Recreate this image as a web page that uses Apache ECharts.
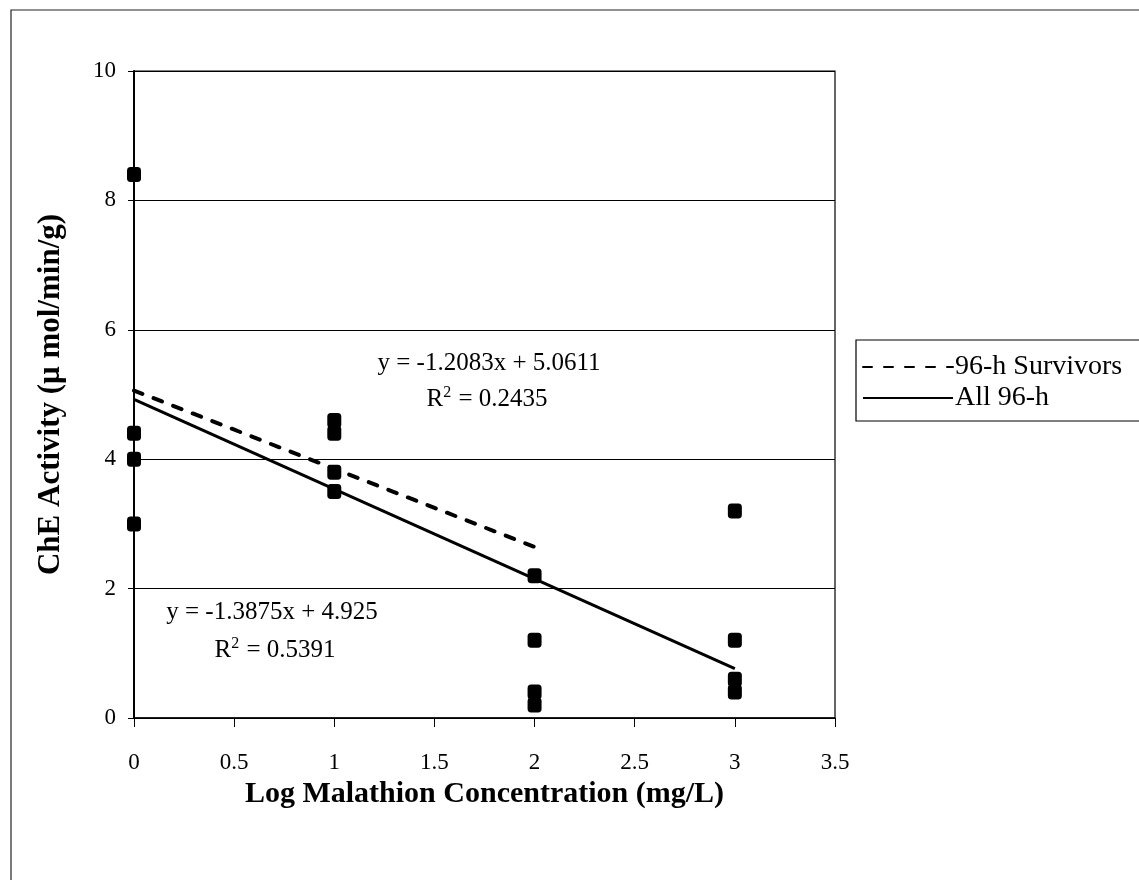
<!DOCTYPE html>
<html>
<head>
<meta charset="utf-8">
<title>ChE Activity vs Log Malathion Concentration</title>
<script src="https://cdn.jsdelivr.net/npm/echarts@6/dist/echarts.min.js"></script>
<style>
  html, body { margin: 0; padding: 0; background: #fff; }
  #chart { width: 1139px; height: 880px; }
</style>
</head>
<body>
<div id="chart"></div>
<script>
// Measured ChE activity per log concentration group
const logConc = [0, 0, 0, 0, 1, 1, 1, 1, 2, 2, 2, 2, 3, 3, 3, 3];
const cheActivity = [8.4, 4.4, 4.0, 3.0, 4.6, 4.4, 3.8, 3.5, 2.2, 1.2, 0.4, 0.2, 3.2, 1.2, 0.6, 0.4];

// Fitted trend lines: [slope, intercept], x-range covered by each fit
const survivorsFit = [-1.2083, 5.0611];
const survivorsRange = [0, 2];
const allFit = [-1.3875, 4.925];
const allRange = [0, 3];

const seriesNames = ['96-h Survivors', 'All 96-h'];
const survivorsEq = ['y = -1.2083x + 5.0611', 'R{sup|2} = 0.2435'];
const allEq = ['y = -1.3875x + 4.925', 'R{sup|2} = 0.5391'];

const xTicks = ['0', '0.5', '1', '1.5', '2', '2.5', '3', '3.5'];

const FONT = '"Liberation Serif", "DejaVu Serif", serif';

function fitLine(fit, range) {
  return range.map(x => [x, fit[0] * x + fit[1]]);
}

const chart = echarts.init(document.getElementById('chart'));

const eqRich = { sup: { fontSize: 16, verticalAlign: 'top', padding: [0, 1, 13, 0], fontFamily: FONT, fill: '#000' } };

function eqText(cx, top, text) {
  return {
    type: 'text', x: cx, y: top,
    style: { text: text, font: '25px ' + FONT, fill: '#000', align: 'center', verticalAlign: 'top', rich: eqRich }
  };
}

chart.setOption({
  animation: false,
  backgroundColor: '#fff',
  textStyle: { fontFamily: FONT, color: '#000' },
  grid: {
    left: 134, top: 71, right: 304, bottom: 162,
    show: true, borderColor: '#000', borderWidth: 1.2, backgroundColor: 'transparent'
  },
  legend: {
    data: seriesNames,
    orient: 'vertical',
    left: 856, top: 340,
    padding: [13, 300, 9, 6],
    itemGap: 3,
    itemWidth: 90, itemHeight: 14,
    borderColor: '#000', borderWidth: 1.2,
    itemStyle: { color: 'transparent', borderWidth: 0 },
    textStyle: { fontFamily: FONT, fontSize: 28, color: '#000', padding: [0, 0, 0, -3] }
  },
  xAxis: {
    type: 'value',
    min: 0, max: 3.5, interval: 0.5,
    name: 'Log Malathion Concentration (mg/L)',
    nameLocation: 'middle',
    nameGap: 58,
    nameTextStyle: { fontFamily: FONT, fontSize: 30, fontWeight: 'bold', color: '#000' },
    axisLine: { lineStyle: { color: '#000', width: 1.5 } },
    axisTick: { show: true, length: 9, lineStyle: { color: '#000' } },
    axisLabel: {
      margin: 33, fontFamily: FONT, fontSize: 23, color: '#000',
      formatter: (v) => xTicks[Math.round(v / 0.5)]
    },
    splitLine: { show: false }
  },
  yAxis: {
    type: 'value',
    min: 0, max: 10, interval: 2,
    name: 'ChE Activity (\u03bc mol/min/g)',
    nameLocation: 'middle',
    nameGap: 68,
    nameTextStyle: { fontFamily: FONT, fontSize: 31, fontWeight: 'bold', color: '#000' },
    axisLine: { show: true, lineStyle: { color: '#000', width: 2 } },
    axisTick: { show: true, length: 6, lineStyle: { color: '#000' } },
    axisLabel: { margin: 18, fontFamily: FONT, fontSize: 23, color: '#000' },
    splitLine: { show: true, lineStyle: { color: '#000', width: 1.2 } }
  },
  series: [
    {
      name: 'data',
      type: 'scatter',
      data: logConc.map((x, i) => [x, cheActivity[i]]),
      symbol: 'roundRect',
      symbolSize: [14, 15],
      itemStyle: { color: '#000', opacity: 1 },
      z: 3
    },
    {
      name: seriesNames[0],
      type: 'line',
      data: fitLine(survivorsFit, survivorsRange),
      symbol: 'none',
      lineStyle: { color: '#000', width: 4, type: [9, 12], cap: 'round' },
      itemStyle: { color: '#000' },
      z: 4
    },
    {
      name: seriesNames[1],
      type: 'line',
      data: fitLine(allFit, allRange),
      symbol: 'none',
      lineStyle: { color: '#000', width: 3 },
      itemStyle: { color: '#000' },
      z: 4
    }
  ],
  graphic: [
    {
      type: 'rect',
      shape: { x: 11, y: 10, width: 1200, height: 1000 },
      style: { fill: 'none', stroke: '#222', lineWidth: 1.2 },
      silent: true, z: -1
    },
    eqText(489, 351, survivorsEq[0]),
    eqText(487, 385, survivorsEq[1]),
    eqText(272, 600, allEq[0]),
    eqText(275, 636, allEq[1])
  ]
});
</script>
</body>
</html>
